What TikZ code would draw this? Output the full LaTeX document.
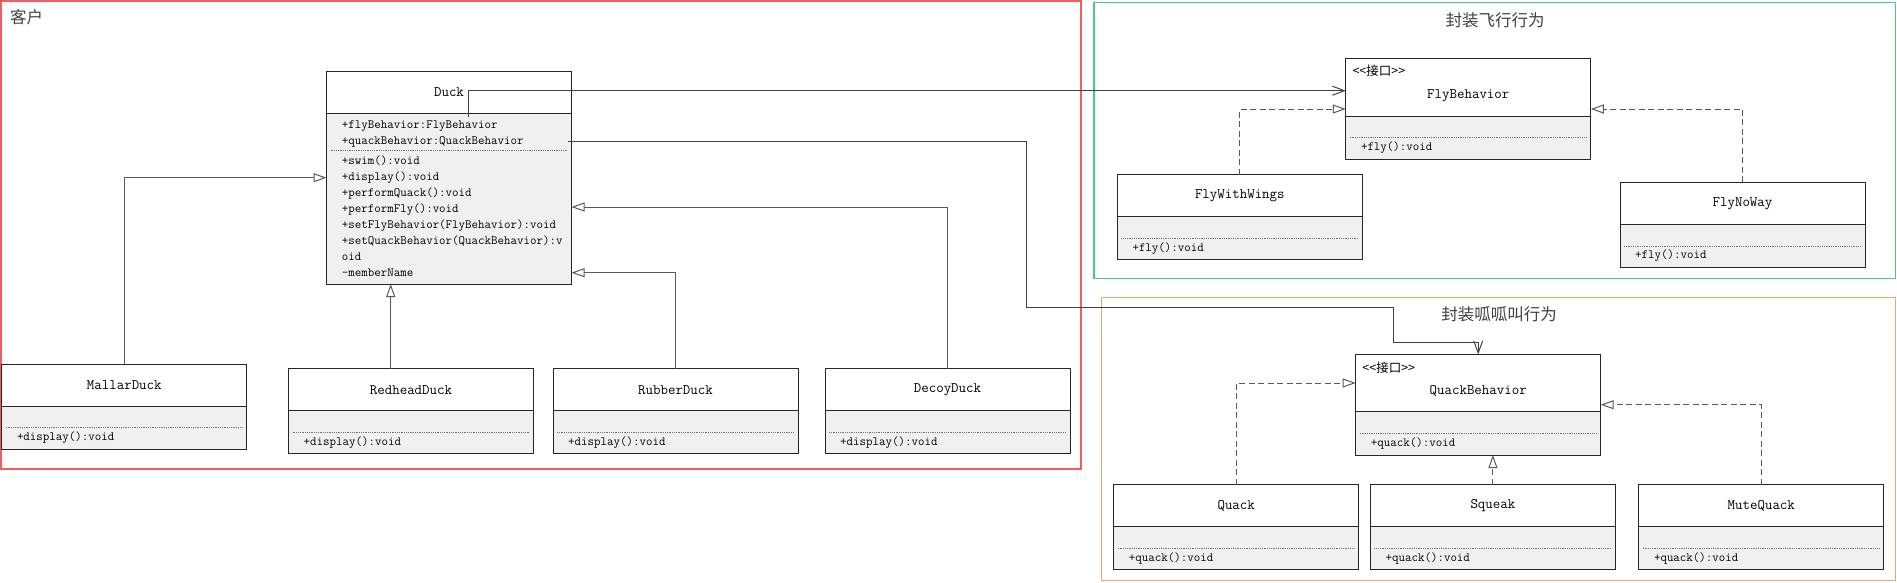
\documentclass[tikz,border=0pt]{standalone}
\usepackage{fontspec}
\newfontfamily\cjk{Noto Sans CJK SC}
\usetikzlibrary{arrows.meta, positioning}
\definecolor{clientred}{RGB}{240,95,95}
\definecolor{flygreen}{RGB}{75,200,130}
\definecolor{quackorange}{RGB}{240,165,100}
\tikzset{
	groupframe/.style = {line width = 1.2pt},
	frametitle/.style = {inner sep = 0pt, text = black!75, font = \cjk\fontsize{16.5}{18}\selectfont},
	classhead/.style = {draw = black!85, fill = white, line width = 1pt, minimum width = 245pt, minimum height = 42pt, anchor = north west, inner sep = 0pt, outer sep = 0pt, font = \fontsize{14.5}{17}\selectfont\ttfamily},
	classbody/.style = {draw = black!85, fill = black!6, line width = 1pt, minimum width = 245pt, minimum height = 43pt, inner sep = 0pt, outer sep = 0pt},
	classname/.style = {inner sep = 0pt, font = \fontsize{14.5}{17}\selectfont\ttfamily},
	stereo/.style = {anchor = west, inner sep = 0pt, font = \cjk\fontsize{12.5}{14}\selectfont},
	member/.style = {anchor = base west, inner sep = 0pt, font = \fontsize{12.6}{16}\selectfont\ttfamily},
	dotsep/.style = {draw = black!55, line width = 0.8pt, densely dotted},
	inherit/.style = {draw = black!65, line width = 1pt, -{Triangle[open, length = 13pt, width = 9pt]}},
	realize/.style = {inherit, dash pattern = on 6pt off 3.5pt},
	assoc/.style = {draw = black!75, line width = 1pt, -{Straight Barb[length = 12pt, width = 9pt]}}
}

\begin{document}
\begin{tikzpicture}[x = 1pt, y = -1pt]
	\useasboundingbox (0, 0) rectangle (1897, 582);

	% groups
	\draw [groupframe, clientred] (1, 1) rectangle (1081, 469);
	\draw [groupframe, flygreen] (1094, 2.7) rectangle (1895.5, 278.3);
	\draw [groupframe, quackorange] (1101.5, 297.3) rectangle (1895.5, 580.5);
	\node [frametitle, anchor = west] (clienttitle) at (10, 17.5) {客户};
	\node [frametitle] (flytitle) at (1495, 20) {封装飞行行为};
	\node [frametitle] (quacktitle) at (1499, 314) {封装呱呱叫行为};

	% Duck
	\node [classhead] (duck) at (326.5, 71) {Duck};
	\node [classbody, minimum height = 171pt, below = 0pt of duck] (duckbody) {};
	\foreach \m [count = \i] in {+flyBehavior:FlyBehavior, +quackBehavior:QuackBehavior}
		\node [member] (duckattr\i) at ([xshift = 15.2pt, yshift = {-15.2pt - (\i - 1) * 16pt}]duckbody.north west) {\m};
	\draw [dotsep] ([xshift = 4pt, yshift = -37.7pt]duckbody.north west) -- ([xshift = -4pt, yshift = -37.7pt]duckbody.north east);
	\foreach \m [count = \i] in {+swim():void, +display():void, +performQuack():void, +performFly():void, +setFlyBehavior(FlyBehavior):void, +setQuackBehavior(QuackBehavior):v, oid, -memberName}
		\node [member] (duckop\i) at ([xshift = 15.2pt, yshift = {-51.2pt - (\i - 1) * 16pt}]duckbody.north west) {\m};

	% interfaces
	\node [classhead, minimum height = 57.6pt] (flyhead) at (1345.8, 58.7) {};
	\node [stereo] (flystereo) at ([xshift = 6.5pt, yshift = -12.3pt]flyhead.north west) {{<}{<}接口{>}{>}};
	\node [classname] (flyname) at ([yshift = -37pt]flyhead.north) {FlyBehavior};
	\node [classbody, below = 0pt of flyhead] (flybody) {};
	\draw [dotsep] ([xshift = 4pt, yshift = -21pt]flybody.north west) -- ([xshift = -4pt, yshift = -21pt]flybody.north east);
	\node [member] (flyop) at ([xshift = 15pt, yshift = -34pt]flybody.north west) {+fly():void};

	\node [classhead, minimum height = 57.4pt] (quackhead) at (1355.7, 354.3) {};
	\node [stereo] (quackstereo) at ([xshift = 6.5pt, yshift = -13pt]quackhead.north west) {{<}{<}接口{>}{>}};
	\node [classname] (quackname) at ([yshift = -36.7pt]quackhead.north) {QuackBehavior};
	\node [classbody, minimum height = 43.3pt, below = 0pt of quackhead] (quackbody) {};
	\draw [dotsep] ([xshift = 4pt, yshift = -21.6pt]quackbody.north west) -- ([xshift = -4pt, yshift = -21.6pt]quackbody.north east);
	\node [member] (quackop) at ([xshift = 15pt, yshift = -34.5pt]quackbody.north west) {+quack():void};

	% concrete classes
	\foreach \cname/\ctitle/\cx/\cy/\cop in {mallard/MallarDuck/1.8/364/display, redhead/RedheadDuck/288.5/368.7/display, rubber/RubberDuck/553/368.7/display, decoy/DecoyDuck/825/368.7/display, wings/FlyWithWings/1117.3/174.7/fly, noway/FlyNoWay/1620/182.3/fly, quack/Quack/1113.7/484.7/quack, squeak/Squeak/1370.4/484.7/quack, mute/MuteQuack/1638.8/484.7/quack}
	{
		\node [classhead] (\cname) at (\cx, \cy) {\ctitle};
		\node [classbody, below = 0pt of \cname] (\cname-body) {};
		\draw [dotsep] ([xshift = 4pt, yshift = -21.6pt]\cname-body.north west) -- ([xshift = -4pt, yshift = -21.6pt]\cname-body.north east);
		\node [member] (\cname-op) at ([xshift = 15pt, yshift = -34.5pt]\cname-body.north west) {+\cop():void};
	}

	% generalization
	\draw [inherit] (mallard.north) |- (duckbody.west |- 0, 177.7);
	\draw [inherit] (redhead.north -| 390.7, 0) -- (duckbody.south -| 390.7, 0);
	\draw [inherit] (rubber.north) |- (duckbody.east |- 0, 272.7);
	\draw [inherit] (decoy.north) |- (duckbody.east |- 0, 207);

	% realization
	\draw [realize] (wings.north) |- (flyhead.west |- 0, 109);
	\draw [realize] (noway.north) |- (flyhead.east |- 0, 109);
	\draw [realize] (quack.north) |- (quackhead.west |- 0, 383);
	\draw [realize] (squeak.north) -- (squeak.north |- quackbody.south);
	\draw [realize] (mute.north) |- (quackhead.east |- 0, 404.7);

	% association
	\coordinate (flyref) at (468.4, 117.3);
	\coordinate (quackref) at (568.3, 141);
	\draw [assoc] (flyref) |- (flyhead.west |- 0, 90.7);
	\draw [assoc] (quackref) -| (1026.6, 307.3) -| (1393.3, 342.3) -| (quackhead.north);
\end{tikzpicture}
\end{document}
